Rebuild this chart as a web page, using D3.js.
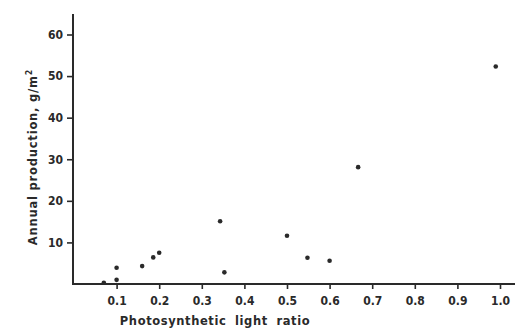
<!DOCTYPE html>
<html>
<head>
<meta charset="utf-8">
<script src="https://cdn.jsdelivr.net/npm/d3@7"></script>
<style>
  body { margin: 0; background: #fff; }
  svg { display: block; }
  .tick text { font-family: "DejaVu Sans Condensed", "Liberation Sans Narrow", sans-serif; font-weight: bold; font-size: 12px; fill: #2a2a2a; }
  .lbl { font-family: "DejaVu Sans", sans-serif; font-weight: bold; font-size: 11.5px; fill: #2a2a2a; }
</style>
</head>
<body>
<div id="chart"></div>
<script>
// light ratio vs annual production (g/m2)
const lightRatio = [0.07, 0.10, 0.10, 0.16, 0.186, 0.20, 0.343, 0.353, 0.50, 0.548, 0.60, 0.667, 0.99];
const production = [0.3, 1.0, 3.9, 4.3, 6.4, 7.5, 15.1, 2.8, 11.6, 6.3, 5.6, 28.1, 52.3];
const xTicks = [0.1, 0.2, 0.3, 0.4, 0.5, 0.6, 0.7, 0.8, 0.9, 1.0];
const yTicks = [10, 20, 30, 40, 50, 60];

const width = 515, height = 329;
const ink = "#2a2a2a";

const svg = d3.select("#chart")
    .append("svg")
    .attr("width", width)
    .attr("height", height);

const x = d3.scaleLinear().domain([0, 1]).range([74, 500]);
const y = d3.scaleLinear().domain([0, 60]).range([284, 34.5]);

// x axis
const gx = svg.append("g")
    .attr("transform", `translate(0,${y(0)})`)
    .call(d3.axisBottom(x).tickValues(xTicks).tickSize(5).tickPadding(7)
        .tickFormat(d3.format(".1f")));
gx.select(".domain").remove();
gx.selectAll(".tick line").attr("stroke", ink).attr("stroke-width", 1.6);
svg.append("line")
    .attr("x1", x(0) - 1).attr("x2", width)
    .attr("y1", y(0)).attr("y2", y(0))
    .attr("stroke", ink).attr("stroke-width", 2);

// y axis
const gy = svg.append("g")
    .attr("transform", `translate(${x(0) - 1},0)`)
    .call(d3.axisLeft(y).tickValues(yTicks).tickSize(6).tickPadding(4));
gy.select(".domain").remove();
gy.selectAll(".tick line").attr("stroke", ink).attr("stroke-width", 1.6);
svg.append("line")
    .attr("x1", x(0) - 1).attr("x2", x(0) - 1)
    .attr("y1", y(0) + 1).attr("y2", 14)
    .attr("stroke", ink).attr("stroke-width", 2);

// points
svg.selectAll("circle")
    .data(lightRatio)
    .enter()
    .append("circle")
    .attr("cx", d => x(d))
    .attr("cy", (d, i) => y(production[i]))
    .attr("r", 2.3)
    .style("fill", ink);

// labels
svg.append("text")
    .attr("class", "lbl")
    .attr("x", 215).attr("y", 325)
    .attr("text-anchor", "middle")
    .attr("letter-spacing", "0.6px")
    .attr("word-spacing", "4px")
    .text("Photosynthetic light ratio");

const yl = svg.append("text")
    .attr("class", "lbl")
    .attr("transform", "translate(37,157) rotate(-90)")
    .attr("text-anchor", "middle")
    .attr("letter-spacing", "0.8px");
yl.append("tspan").text("Annual production, g/m");
yl.append("tspan").attr("dy", -5).attr("font-size", "8px").text("2");
</script>
</body>
</html>
